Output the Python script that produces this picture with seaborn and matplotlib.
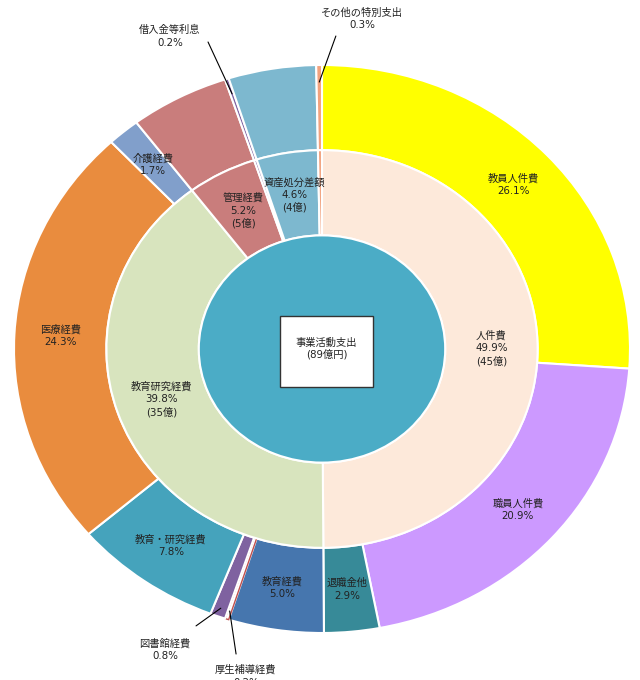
import numpy as np
import matplotlib
matplotlib.use("Agg")
import matplotlib.pyplot as plt
import matplotlib.patches as mpatches
import seaborn as sns

# ---- data ----
inner_labels = ["人件費", "教育研究経費", "管理経費", "借入金等利息", "資産処分差額", "その他の特別支出"]
inner_values = [49.9, 39.8, 5.2, 0.2, 4.6, 0.3]
inner_amounts = ["45億", "35億", "5億", "", "4億", ""]

outer_labels = ["教員人件費", "職員人件費", "退職金他", "教育経費", "厚生補導経費", "図書館経費",
                "教育・研究経費", "医療経費", "介護経費", "管理経費", "借入金等利息",
                "資産処分差額", "その他の特別支出"]
outer_values = [26.1, 20.9, 2.9, 5.0, 0.2, 0.8, 7.8, 24.3, 1.7, 5.2, 0.2, 4.6, 0.3]

center_title = "事業活動支出"
center_total = "(89億円)"

# ---- styles ----
inner_colors = ["#FDE9DA", "#D8E4BE", "#C97D7C", "#8064A2", "#7DB8CF", "#F2A27E"]
outer_colors = ["#FFFF00", "#CC99FF", "#378A98", "#4676AE", "#FFFFFF", "#7F62A0",
                "#45A3BC", "#E98C3E", "#819FCB", "#C97D7C", "#8064A2", "#7DB8CF", "#F2A27E"]
outer_edges = ["white"] * 13
outer_edges[4] = "#C0504D"

outer_inline = {0, 1, 2, 3, 6, 7, 8}
inner_inline = {0, 1, 2, 4}
# outside labels: index -> (text pos, line start, anchor radius) in data units
outer_callouts = {10: ((-0.494, 1.100), (-0.370, 1.081), 0.945),
                  12: ((0.130, 1.162), (0.045, 1.102), 0.94),
                  5: ((-0.510, -1.060), (-0.409, -0.975), 0.97),
                  4: ((-0.247, -1.152), (-0.279, -1.074), 0.97)}

sns.set_theme(style="white")
plt.rcParams["font.family"] = ["DejaVu Sans", "Noto Sans CJK JP"]

fig = plt.figure(figsize=(6.4, 6.8), dpi=100)
ax = fig.add_axes([0, 0, 1, 1])

fs = 7.4
txt_color = "#222222"

wo, _ = ax.pie(outer_values, radius=1.0, colors=outer_colors, startangle=90,
               counterclock=False,
               wedgeprops=dict(width=0.3, edgecolor="white", linewidth=1.5))
for w, ec in zip(wo, outer_edges):
    if ec != "white":
        w.set_edgecolor(ec)
        w.set_linewidth(1.0)

wi, _ = ax.pie(inner_values, radius=0.7, colors=inner_colors, startangle=90,
               counterclock=False,
               wedgeprops=dict(width=0.3, edgecolor="white", linewidth=1.5))

ax.pie([1], radius=0.4, colors=["#4BACC6"], startangle=90,
       wedgeprops=dict(edgecolor="white", linewidth=1.5))

def mid(w):
    return np.deg2rad((w.theta1 + w.theta2) / 2.0)

for i, w in enumerate(wo):
    a = mid(w)
    text = f"{outer_labels[i]}\n{outer_values[i]:.1f}%"
    if i in outer_inline:
        ax.text(0.85 * np.cos(a), 0.85 * np.sin(a), text, ha="center", va="center",
                fontsize=fs, color=txt_color, linespacing=1.3)
    elif i in outer_callouts:
        (tx, ty), (lx, ly), r = outer_callouts[i]
        ax.text(tx, ty, text, ha="center", va="center", fontsize=fs,
                color=txt_color, linespacing=1.3, clip_on=False)
        ax.plot([lx, r * np.cos(a)], [ly, r * np.sin(a)], color="black", lw=0.8)

for i, w in enumerate(wi):
    if i not in inner_inline:
        continue
    a = mid(w)
    text = f"{inner_labels[i]}\n{inner_values[i]:.1f}%\n({inner_amounts[i]})"
    ax.text(0.55 * np.cos(a), 0.55 * np.sin(a), text, ha="center", va="center",
            fontsize=fs, color=txt_color, linespacing=1.3)

# center box
bw, bh = 0.302, 0.25
cx, cy = 0.015, -0.009
ax.add_patch(mpatches.Rectangle((cx - bw / 2, cy - bh / 2), bw, bh,
                                facecolor="white", edgecolor="#333333", lw=1.0, zorder=5))
ax.text(cx, cy + 0.01, f"{center_title}\n{center_total}", ha="center", va="center",
        fontsize=fs, color=txt_color, linespacing=1.2, zorder=6)

ax.set_aspect("auto")
ax.set_xlim(-322 / 308, (640 - 322) / 308)
ax.set_ylim(-(680 - 349) / 284, 349 / 284)
ax.axis("off")

fig.savefig("out.png", dpi=100)
